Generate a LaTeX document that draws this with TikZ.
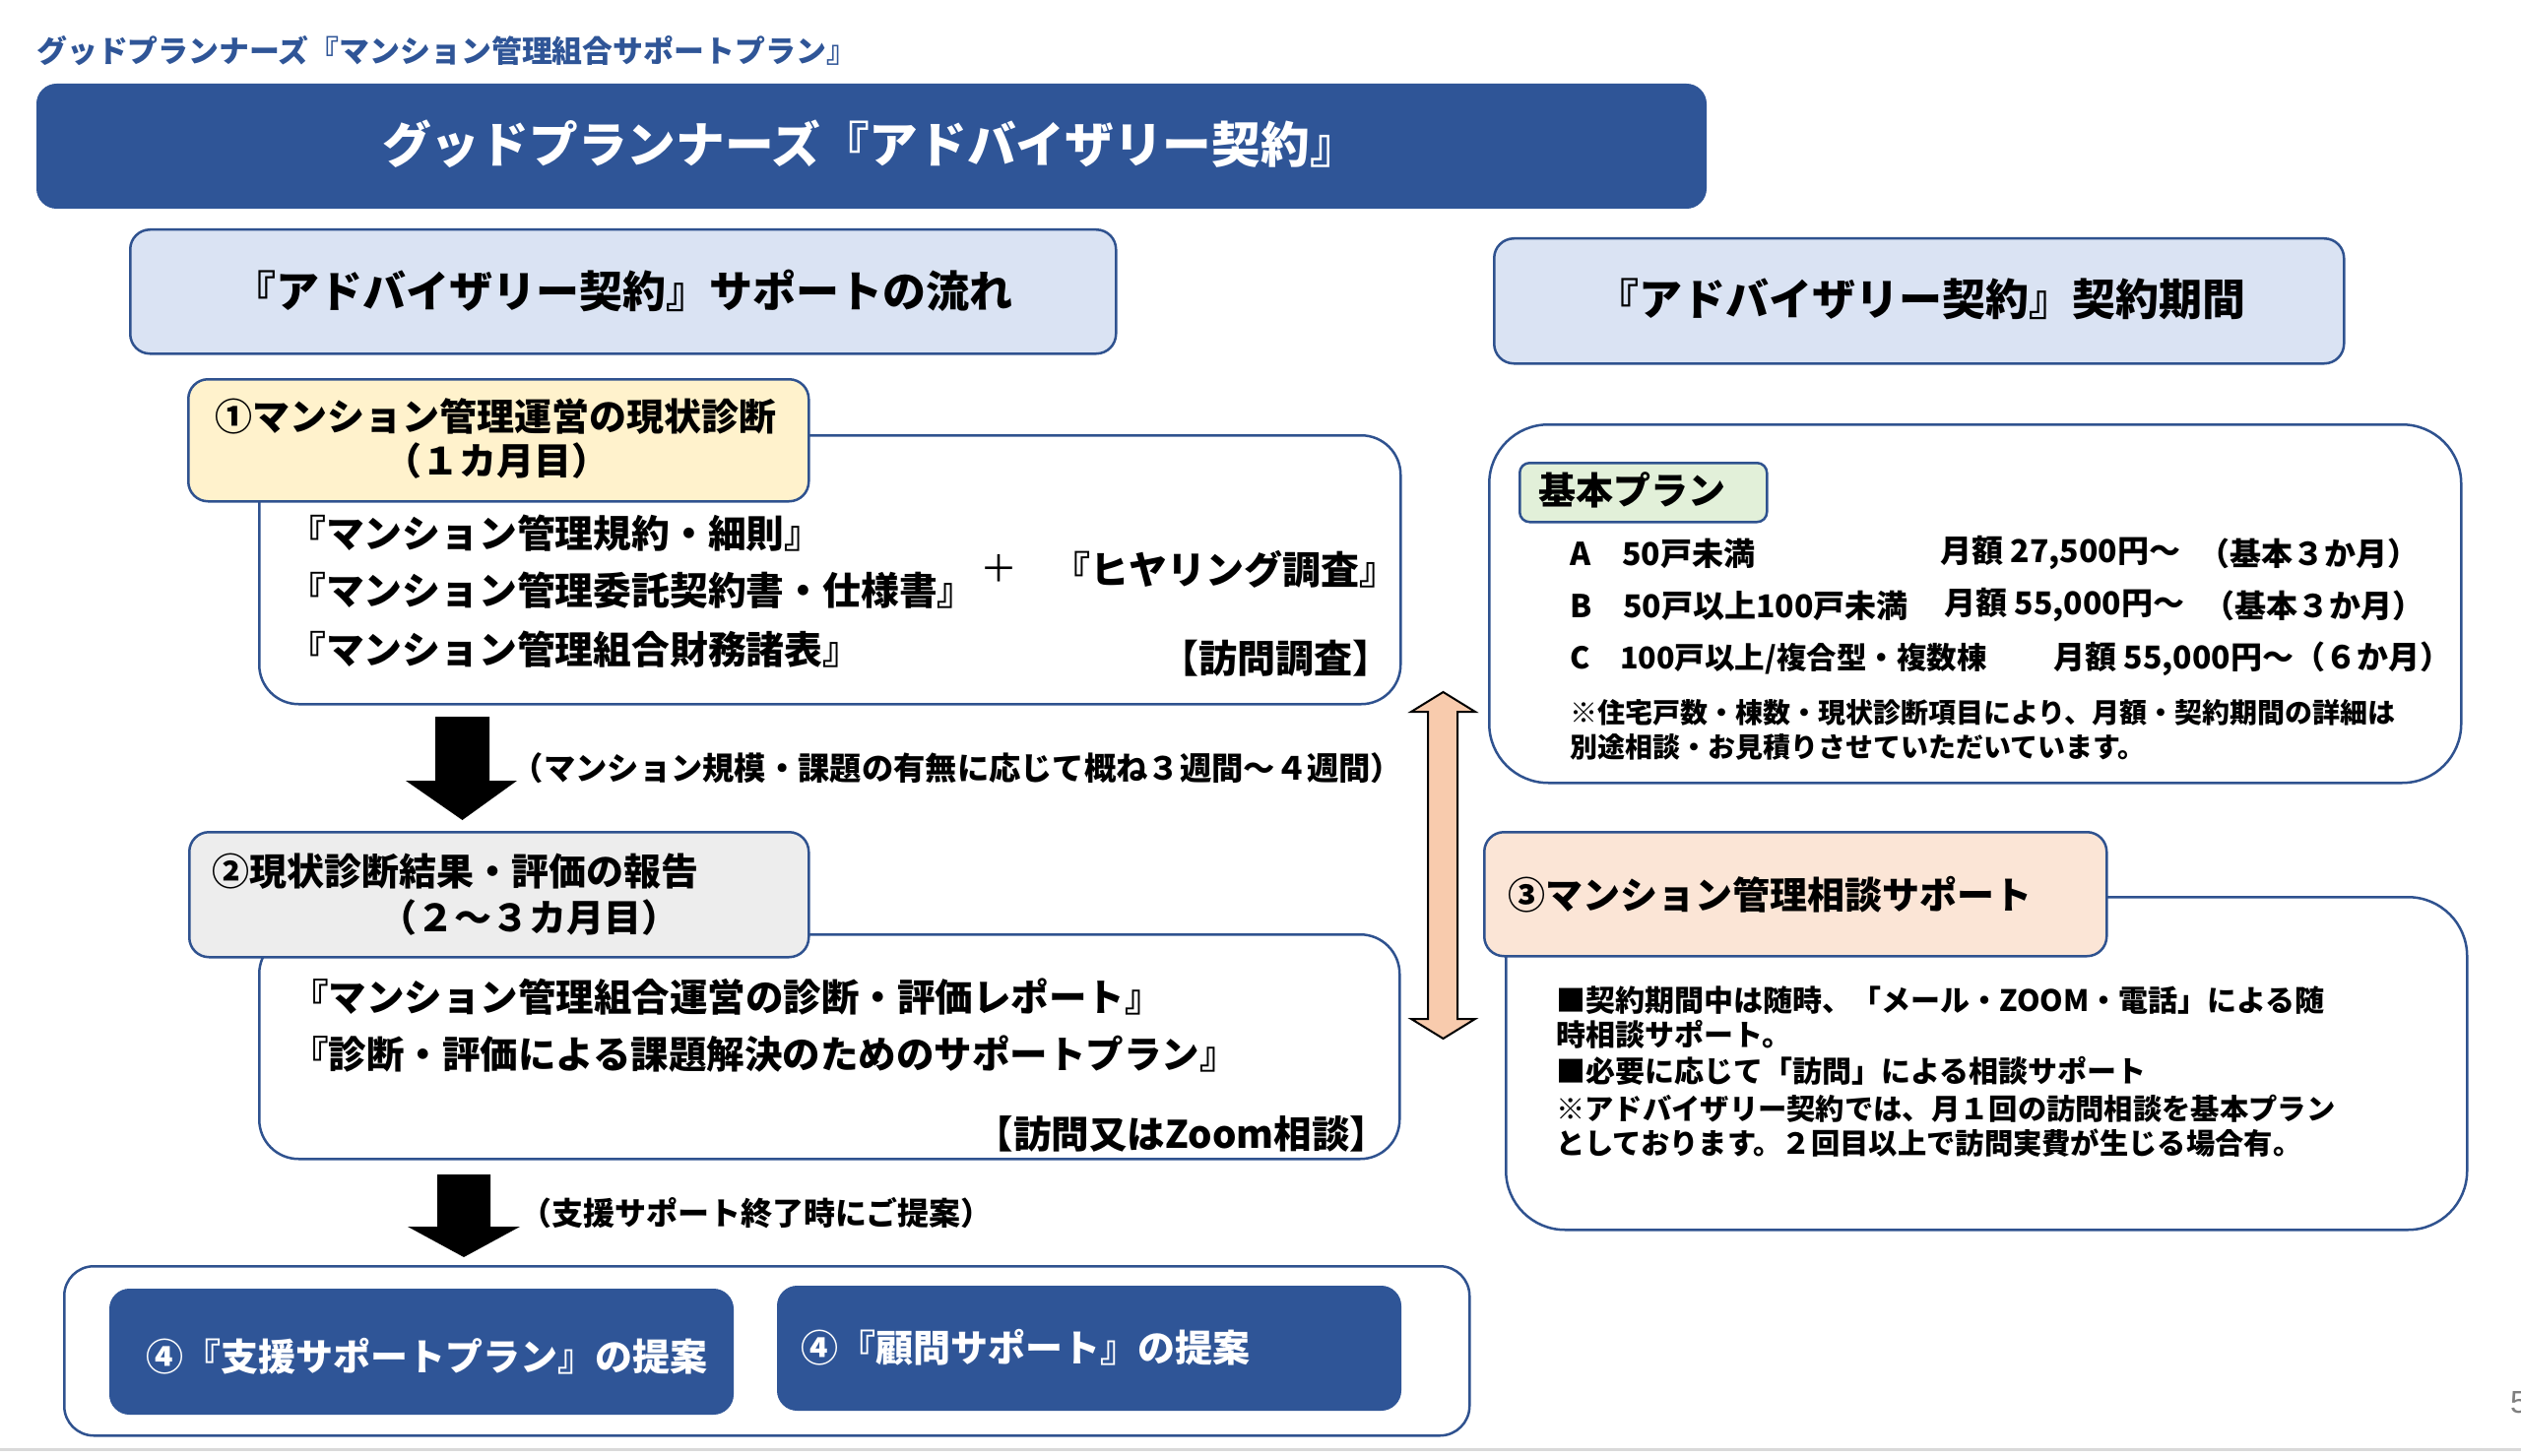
\documentclass[tikz,border=0pt]{standalone}
\usepackage{fontspec}
\setmainfont{Noto Sans CJK JP}
\newfontfamily\latinfont{Liberation Sans}
\definecolor{cblue}{HTML}{2F5597}
\definecolor{cborder}{HTML}{2F528F}
\definecolor{clight}{HTML}{DAE3F3}
\definecolor{cyellow}{HTML}{FFF2CC}
\definecolor{cgrey}{HTML}{EDEDED}
\definecolor{cgreen}{HTML}{E2F0D9}
\definecolor{cpeach}{HTML}{FBE5D6}
\definecolor{carrow}{HTML}{F8CBAD}
\definecolor{cline}{HTML}{D9D9D9}
\definecolor{cpage}{HTML}{7F7F7F}
\newcommand{\fsz}[1]{\fontsize{#1}{#1}\selectfont\bfseries}
\begin{document}
\begin{tikzpicture}[x=1pt,y=-1pt,
  box/.style={draw=cborder, line width=2.5pt, rectangle, inner sep=0pt, anchor=north west},
  txt/.style={inner sep=0pt},
  txtw/.style={inner sep=0pt, anchor=west},
  blockarrow/.style={fill=black, draw=none},
  dblarrow/.style={fill=carrow, draw=black, line width=2pt, line join=miter}
]
\useasboundingbox (0,0) rectangle (2560,1479);
\fill[white] (0,0) rectangle (2560,1479);

% subtitle
\node[txtw, font=\fsz{30.9}, text=cblue] (subtitle) at (37,52) {グッドプランナーズ『マンション管理組合サポートプラン』};

% banner
\node[box, draw=cblue, line width=1pt, fill=cblue, rounded corners=20pt, minimum width=1695pt, minimum height=126pt] (banner) at (37,85) {};
\node[txt, font=\fsz{49.7}, text=white] (bannert) at (884,146) {グッドプランナーズ『アドバイザリー契約』};

% headers
\node[box, fill=clight, rounded corners=20pt, minimum width=1001pt, minimum height=126pt] (hdrL) at (131,232) {};
\node[txt, font=\fsz{44}] (hdrLt) at (632,295) {『アドバイザリー契約』サポートの流れ};
\node[box, fill=clight, rounded corners=20pt, minimum width=863pt, minimum height=127pt] (hdrR) at (1516,241) {};
\node[txt, font=\fsz{44}] (hdrRt) at (1950,304) {『アドバイザリー契約』契約期間};

% step 1
\node[box, fill=white, rounded corners=40pt, minimum width=1159pt, minimum height=273pt] (c1) at (262,441) {};
\node[box, fill=cyellow, rounded corners=20pt, minimum width=630pt, minimum height=124pt] (l1) at (190,384) {};
\node[txtw, font=\fsz{38}] (l1a) at (218,423) {①マンション管理運営の現状診断};
\node[txt, font=\fsz{38}] (l1b) at (504,468) {（１カ月目）};
\node[txtw, font=\fsz{38.8}] (c1a) at (292,542) {『マンション管理規約・細則』};
\node[txtw, font=\fsz{38.8}] (c1b) at (292,600) {『マンション管理委託契約書・仕様書』};
\node[txtw, font=\fsz{38.8}] (c1c) at (292,660) {『マンション管理組合財務諸表』};
\node[txt, font=\fontsize{38}{38}\selectfont] (plus) at (1014,577) {＋};
\node[txt, font=\fsz{39}] (c1d) at (1244,578) {『ヒヤリング調査』};
\node[txt, font=\fsz{39}] (c1e) at (1295,669) {【訪問調査】};

% arrow 1
\draw[blockarrow] (442,728) -- (497,728) -- (497,793) -- (525,793) -- (469.5,833) -- (412,793) -- (442,793) -- cycle;
\node[txt, font=\fsz{32.3}] (a1t) at (972,780) {（マンション規模・課題の有無に応じて概ね３週間～４週間）};

% step 2
\node[box, fill=white, rounded corners=40pt, minimum width=1158pt, minimum height=228pt] (c2) at (262,948) {};
\node[box, fill=cgrey, rounded corners=20pt, minimum width=629pt, minimum height=127pt] (l2) at (191,844) {};
\node[txtw, font=\fsz{38}] (l2a) at (215,885) {②現状診断結果・評価の報告};
\node[txt, font=\fsz{38}] (l2b) at (537,932) {（２～３カ月目）};
\node[txtw, font=\fsz{38.5}] (c2a) at (295,1013) {『マンション管理組合運営の診断・評価レポート』};
\node[txtw, font=\fsz{38.5}] (c2b) at (295,1071) {『診断・評価による課題解決のためのサポートプラン』};
\node[txt, font=\fsz{38.5}] (c2c) at (1200,1152) {【訪問又はZoom相談】};

% arrow 2
\draw[blockarrow] (444,1193) -- (498,1193) -- (498,1246) -- (528,1246) -- (471,1277) -- (414,1246) -- (444,1246) -- cycle;
\node[txt, font=\fsz{32}] (a2t) at (768,1232) {（支援サポート終了時にご提案）};

% step 4
\node[box, fill=white, rounded corners=30pt, minimum width=1427pt, minimum height=172pt] (c4) at (64,1285) {};
\node[box, draw=cblue, line width=1pt, fill=cblue, rounded corners=20pt, minimum width=633pt, minimum height=127pt] (l4a) at (111,1309) {};
\node[txtw, font=\fsz{38}, text=white] (l4at) at (148,1378) {④『支援サポートプラン』の提案};
\node[box, draw=cblue, line width=1pt, fill=cblue, rounded corners=20pt, minimum width=633pt, minimum height=126pt] (l4b) at (789,1306) {};
\node[txtw, font=\fsz{38}, text=white] (l4bt) at (813,1369) {④『顧問サポート』の提案};

% double arrow
\draw[dblarrow] (1465.5,703) -- (1498,723) -- (1480,723) -- (1480,1035) -- (1498,1035) -- (1465.5,1055) -- (1433,1035) -- (1450,1035) -- (1450,723) -- (1433,723) -- cycle;

% basic plan
\node[box, fill=white, rounded corners=60pt, minimum width=987pt, minimum height=364pt] (plan) at (1511,430) {};
\node[box, fill=cgreen, rounded corners=10pt, minimum width=251pt, minimum height=60pt] (planl) at (1542,469) {};
\node[txtw, font=\fsz{38}] (planlt) at (1562,498) {基本プラン};
\node[txtw, font=\fsz{32}] (ra1) at (1594,562) {A　50戸未満};
\node[txtw, font=\fsz{32}] (ra2) at (1970,562) {月額 27,500円～};
\node[txtw, font=\fsz{32}] (ra3) at (2232,562) {（基本３か月）};
\node[txtw, font=\fsz{32}] (rb1) at (1594,615) {B　50戸以上100戸未満};
\node[txtw, font=\fsz{32}] (rb2) at (1974,615) {月額 55,000円～};
\node[txtw, font=\fsz{32}] (rb3) at (2237,615) {（基本３か月）};
\node[txtw, font=\fsz{30.5}] (rc1) at (1594,669) {C　100戸以上/複合型・複数棟};
\node[txtw, font=\fsz{32}] (rc2) at (2085,669) {月額 55,000円～（６か月）};
\node[txtw, font=\fsz{28}] (n1) at (1594,724) {※住宅戸数・棟数・現状診断項目により、月額・契約期間の詳細は};
\node[txtw, font=\fsz{28}] (n2) at (1594,759) {別途相談・お見積りさせていただいています。};

% step 3
\node[box, fill=white, rounded corners=60pt, minimum width=976pt, minimum height=338pt] (c3) at (1528,910) {};
\node[box, fill=cpeach, rounded corners=20pt, minimum width=632pt, minimum height=126pt] (l3) at (1506,844) {};
\node[txtw, font=\fsz{38}] (l3t) at (1531,909) {③マンション管理相談サポート};
\node[txtw, font=\fsz{30}] (c3a) at (1580,1016) {■契約期間中は随時、「メール・ZOOM・電話」による随};
\node[txtw, font=\fsz{30}] (c3b) at (1580,1051) {時相談サポート。};
\node[txtw, font=\fsz{30}] (c3c) at (1580,1088) {■必要に応じて「訪問」による相談サポート};
\node[txtw, font=\fsz{29.3}] (c3d) at (1580,1126) {※アドバイザリー契約では、月１回の訪問相談を基本プラン};
\node[txtw, font=\fsz{29.3}] (c3e) at (1580,1161) {としております。２回目以上で訪問実費が生じる場合有。};

% footer
\draw[cline, line width=3pt] (0,1472) -- (2560,1472);
\node[txtw, font=\latinfont\fontsize{32}{32}\selectfont, text=cpage] (page) at (2549,1425) {5};
\end{tikzpicture}
\end{document}
